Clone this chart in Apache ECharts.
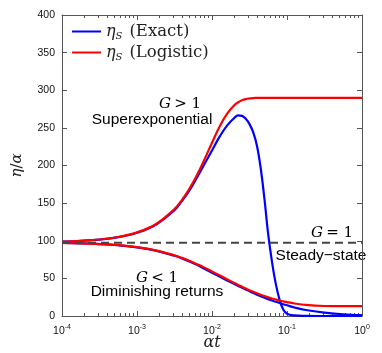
<!DOCTYPE html>
<html>
<head>
<meta charset="utf-8">
<script src="https://cdn.jsdelivr.net/npm/echarts@6/dist/echarts.min.js"></script>
<style>html,body{margin:0;padding:0;background:#fff}#main{width:382px;height:353px}</style>
</head>
<body>
<div id="main"></div>
<script>
// sample points, as log10(alpha*t)
var logT = [-4, -3.75, -3.5, -3.25, -3, -2.75, -2.5, -2.4, -2.3, -2.2, -2.1, -2, -1.9, -1.8, -1.7, -1.65, -1.6,
  -1.55, -1.5, -1.45, -1.4, -1.35, -1.3, -1.25, -1.2, -1.15, -1.1, -1.05, -1, -0.9, -0.75, -0.5, -0.25, 0];

// G > 1 (superexponential)
var exactUp = [98.8, 99.9, 101.6, 104.8, 110.7, 121.3, 140.5, 153, 167, 184, 202, 220, 238, 253, 263.5, 266.5, 266,
  262, 255, 244, 226, 196, 155, 108, 72, 43, 22, 8.5, 3, 0.8, 0.2, 0, 0, 0];
var logisticUp = [98.8, 99.9, 101.7, 105, 111.1, 122, 142.2, 154.3, 169.2, 187.3, 208.1, 230.3, 251.5, 268.7, 280.4, 284, 286.6,
  288.2, 289.1, 289.6, 289.8, 290, 290, 290, 290, 290, 290, 290, 290, 290, 290, 290, 290, 290];

// G < 1 (diminishing returns)
var exactDown = [97, 96.5, 95.6, 94, 91.3, 86.8, 80, 76.6, 72.5, 68, 62.8, 57.5, 52.3, 47.3, 42.5, 40, 37.6,
  35.2, 32.9, 30.6, 28.4, 26.3, 24.3, 22.4, 20.6, 18.9, 17.3, 15.7, 14.2, 11.3, 8, 4.6, 2.3, 1.2];
var logisticDown = [97, 96.5, 95.6, 94.1, 91.5, 87.2, 80.6, 77.2, 73.3, 68.9, 64.3, 59.2, 54.1, 48.9, 43.8, 41.3, 38.9,
  36.5, 34.3, 32.2, 30.2, 28.3, 26.5, 24.8, 23.3, 21.9, 20.6, 19.5, 18.4, 16.6, 14.7, 13.3, 13, 13];

// G = 1 (steady state)
var steadyT = [1e-4, 1];
var steadyVal = [97.5, 97.5];

// minor ticks at 2..9 of each decade, kept as log10 positions
var minorTicks = [];
for (var d = -4; d < 0; d++) {
  for (var m = 2; m <= 9; m++) minorTicks.push(d + Math.log(m) / Math.LN10);
}

function pairs(ys) {
  return logT.map(function (l, i) { return [Math.pow(10, l), ys[i]]; });
}

var serif = 'DejaVu Serif';
var sans = 'Liberation Sans';
var axisColor = '#555';

var mathRich = {
  i: { fontFamily: serif, fontStyle: 'italic', fontSize: 15, color: '#222' },
  n: { fontFamily: serif, fontSize: 15, color: '#222' }
};

function minorAxis(pos) {
  return {
    type: 'value', min: -4, max: 0, position: pos,
    axisLine: { show: false, onZero: false },
    axisTick: { show: true, inside: true, length: 3, customValues: minorTicks, lineStyle: { color: axisColor } },
    axisLabel: { show: false },
    splitLine: { show: false }
  };
}

var chart = echarts.init(document.getElementById('main'));

chart.setOption({
  animation: false,
  grid: { left: 62, right: 20, top: 15, bottom: 37, outerBoundsMode: 'none', containLabel: false },
  legend: {
    data: ['Exact', 'Logistic'],
    orient: 'vertical',
    left: 67,
    top: 18,
    itemWidth: 29,
    itemHeight: 2,
    itemGap: 3,
    icon: 'rect',
    formatter: function (name) {
      return '{i|η}{s|S}{n|(' + name + ')}';
    },
    textStyle: {
      rich: {
        i: { fontFamily: serif, fontStyle: 'italic', fontSize: 16, lineHeight: 19, color: '#222' },
        s: { fontFamily: serif, fontStyle: 'italic', fontSize: 10, lineHeight: 10, verticalAlign: 'bottom', color: '#222' },
        n: { fontFamily: serif, fontSize: 16.5, lineHeight: 19, padding: [0, 0, 0, 7], color: '#222' }
      }
    }
  },
  xAxis: [
    {
      type: 'log', logBase: 10, min: 1e-4, max: 1, position: 'bottom',
      axisLine: { onZero: false, lineStyle: { color: axisColor } },
      axisTick: { inside: true, length: 5, lineStyle: { color: axisColor } },
      splitLine: { show: false },
      axisLabel: {
        margin: 8,
        formatter: function (v) {
          return '{b|10}{sup|' + Math.round(Math.log(v) / Math.LN10) + '}';
        },
        rich: {
          b: { fontFamily: sans, fontSize: 10.5, lineHeight: 14, color: '#111' },
          sup: { fontFamily: sans, fontSize: 7, lineHeight: 7, verticalAlign: 'top', color: '#111' }
        }
      },
      name: '{i|αt}',
      nameLocation: 'middle',
      nameGap: 27,
      nameMoveOverlap: false,
      nameTextStyle: {
        verticalAlign: 'middle',
        rich: { i: { fontFamily: serif, fontStyle: 'italic', fontSize: 16, color: '#222' } }
      }
    },
    {
      type: 'log', logBase: 10, min: 1e-4, max: 1, position: 'top',
      axisLine: { onZero: false, lineStyle: { color: axisColor } },
      axisTick: { inside: true, length: 5, lineStyle: { color: axisColor } },
      axisLabel: { show: false },
      splitLine: { show: false }
    },
    minorAxis('bottom'),
    minorAxis('top')
  ],
  yAxis: [
    {
      type: 'value', min: 0, max: 400, interval: 50, position: 'left',
      axisLine: { show: true, onZero: false, lineStyle: { color: axisColor } },
      axisTick: { show: true, inside: true, length: 5, lineStyle: { color: axisColor } },
      splitLine: { show: false },
      axisLabel: { margin: 7, fontFamily: sans, fontSize: 10.5, color: '#111' },
      name: '{i|η}{n|/}{i|α}',
      nameLocation: 'middle',
      nameGap: 37,
      nameRotate: 90,
      nameMoveOverlap: false,
      nameTextStyle: { rich: mathRich }
    },
    {
      type: 'value', min: 0, max: 400, interval: 50, position: 'right',
      axisLine: { show: true, onZero: false, lineStyle: { color: axisColor } },
      axisTick: { show: true, inside: true, length: 5, lineStyle: { color: axisColor } },
      axisLabel: { show: false },
      splitLine: { show: false }
    }
  ],
  series: [
    {
      name: 'Exact', type: 'line', showSymbol: false, smooth: 0.4, z: 3,
      data: pairs(exactUp), color: '#0000ff', lineStyle: { color: '#0000ff', width: 2.2 }
    },
    {
      name: 'Exact', type: 'line', showSymbol: false, smooth: 0.4, z: 3,
      data: pairs(exactDown), color: '#0000ff', lineStyle: { color: '#0000ff', width: 2.2 }
    },
    {
      name: 'Logistic', type: 'line', showSymbol: false, smooth: 0.4, z: 4,
      data: pairs(logisticUp), color: '#ff0000', lineStyle: { color: '#ff0000', width: 2.2 }
    },
    {
      name: 'Logistic', type: 'line', showSymbol: false, smooth: 0.4, z: 4,
      data: pairs(logisticDown), color: '#ff0000', lineStyle: { color: '#ff0000', width: 2.2 }
    },
    {
      name: 'Steady', type: 'line', showSymbol: false, z: 5,
      data: steadyT.map(function (t, i) { return [t, steadyVal[i]]; }),
      lineStyle: { color: '#444', width: 2, type: [8, 5] }
    }
  ],
  graphic: [
    { type: 'text', x: 180, y: 104, style: { text: '{i|G} {n|> 1}', rich: mathRich, align: 'center', verticalAlign: 'middle' } },
    { type: 'text', x: 152, y: 120, style: { text: 'Superexponential', fontFamily: sans, fontSize: 15.5, fill: '#000', align: 'center', verticalAlign: 'middle' } },
    { type: 'text', x: 332, y: 233, style: { text: '{i|G} {n|= 1}', rich: mathRich, align: 'center', verticalAlign: 'middle' } },
    { type: 'text', x: 321, y: 256, style: { text: 'Steady−state', fontFamily: sans, fontSize: 15.5, fill: '#000', align: 'center', verticalAlign: 'middle' } },
    { type: 'text', x: 157, y: 278, style: { text: '{i|G} {n|< 1}', rich: mathRich, align: 'center', verticalAlign: 'middle' } },
    { type: 'text', x: 157, y: 292, style: { text: 'Diminishing returns', fontFamily: sans, fontSize: 15.5, fill: '#000', align: 'center', verticalAlign: 'middle' } }
  ]
});
</script>
</body>
</html>
